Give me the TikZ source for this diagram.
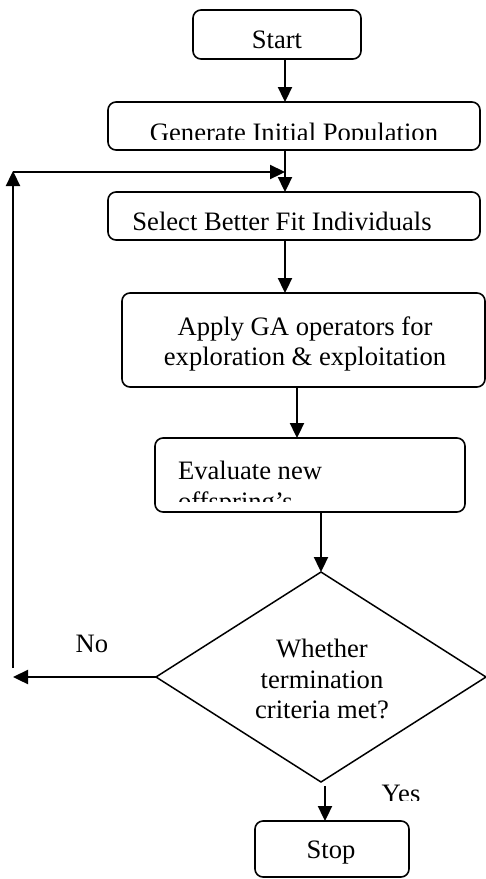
\documentclass[tikz,border=0pt]{standalone}
\usepackage{fontspec}
\setmainfont{Liberation Serif}
\usetikzlibrary{shapes.geometric,arrows.meta}
\begin{document}
\begin{tikzpicture}[x=1pt,y=-1pt,
  box/.style={draw, rounded corners=8pt, line width=1.6pt, inner sep=0pt, outer sep=0pt},
  dia/.style={draw, diamond, line width=1.5pt, inner sep=0pt, outer sep=0pt, minimum width=330pt, minimum height=210pt},
  arr/.style={line width=2.3pt, -{Triangle[length=15pt,width=14pt]}},
  txt/.style={inner sep=0pt, outer sep=0pt, font=\fontsize{26.6}{31}\selectfont}]
\useasboundingbox (0,0) rectangle (486,879);

% boxes
\node[box, minimum width=168pt, minimum height=49pt] (start) at (277,34.5) {};
\node[box, minimum width=372pt, minimum height=48pt] (gen) at (294,126) {};
\node[box, minimum width=372pt, minimum height=48pt] (sel) at (294,216) {};
\node[box, minimum width=363pt, minimum height=94pt] (apply) at (303.5,340) {};
\node[box, minimum width=310pt, minimum height=74pt] (eval) at (310,475) {};
\node[dia] (crit) at (321,677) {};
\node[box, minimum width=154pt, minimum height=56pt] (stop) at (332,849) {};

% texts
\node[txt, anchor=base] (startt) at (277,48) {Start};
\begin{scope}
  \clip (100,100) rectangle (486,139);
  \node[txt, anchor=base] (gent) at (294,141) {Generate Initial Population};
\end{scope}
\node[txt, anchor=base] (selt) at (282,230) {Select Better Fit Individuals};
\node[txt, anchor=base] (applyt1) at (305,335) {Apply GA operators for};
\node[txt, anchor=base] (applyt2) at (305,365) {exploration \& exploitation};
\node[txt, anchor=base west] (evalt1) at (178,479) {Evaluate new};
\begin{scope}
  \clip (150,485) rectangle (470,501);
  \node[txt, anchor=base west] (evalt2) at (178,510) {offspring’s};
\end{scope}
\node[txt, anchor=base] (critt1) at (322,657) {Whether};
\node[txt, anchor=base] (critt2) at (322,688) {termination};
\node[txt, anchor=base] (critt3) at (322,718) {criteria met?};
\node[txt, anchor=base] (not) at (92,652) {No};
\begin{scope}
  \clip (370,770) rectangle (440,800);
  \node[txt, anchor=base] (yest) at (401,802) {Yes};
\end{scope}
\node[txt, anchor=base] (stopt) at (331,858) {Stop};

% connectors
\draw[arr] ([xshift=8pt]start.south) -- ([xshift=8pt]start.south |- gen.north);
\draw[arr] ([xshift=-9pt]gen.south) -- ([xshift=-9pt]gen.south |- sel.north);
\draw[arr] ([xshift=-9pt]sel.south) -- ([xshift=-9pt]sel.south |- apply.north);
\draw[arr] ([xshift=-13pt]eval.north |- apply.south) -- ([xshift=-13pt]eval.north);
\draw[arr] (crit.north |- eval.south) -- (crit.north);
\draw[arr] ([xshift=4pt,yshift=-4pt]crit.south) -- ([xshift=4pt]crit.south |- stop.north);

% loop back
\coordinate (nend) at (13,677);
\coordinate (lbot) at (13,668);
\coordinate (ltop) at (13,171);
\draw[arr] (crit.west) -- (nend);
\draw[arr] (lbot) -- (ltop);
\draw[arr] ([yshift=-1pt]ltop) -- ([xshift=-9pt,yshift=-1pt]gen.south |- ltop);
\end{tikzpicture}
\end{document}
